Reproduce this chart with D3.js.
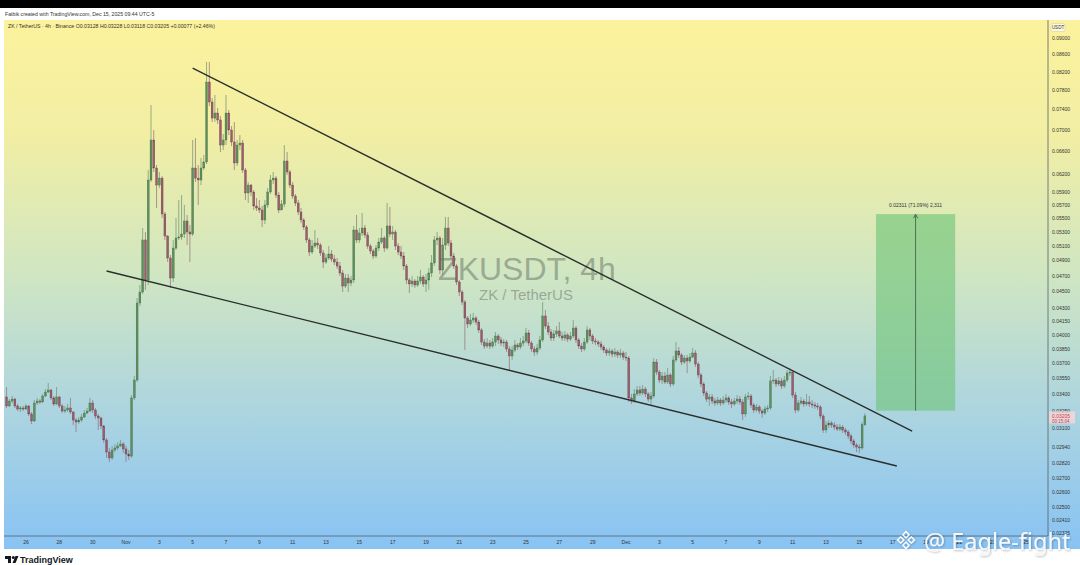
<!DOCTYPE html>
<html>
<head>
<meta charset="utf-8">
<script src="https://cdn.jsdelivr.net/npm/d3@7"></script>
<style>
  body { margin: 0; background: #fff; }
  svg { display: block; font-family: "Liberation Sans", Arial, sans-serif; }
</style>
</head>
<body>
<div id="chart"></div>
<script>
// ZK / TetherUS 4h candles (open = previous close)
var firstOpen = 0.03375;
var firstCandle = Date.UTC(2025, 9, 24, 20);   // chart local time, 4h bars

var closes = [
  0.03293,0.03338,0.03356,0.03293,0.03266,0.03275,0.03266,0.03293,0.03222,0.03161,
  0.03320,0.03338,0.03329,0.03384,0.03421,0.03440,0.03366,0.03311,0.03375,0.03293,
  0.03248,0.03257,0.03275,0.03239,0.03169,0.03152,0.03169,0.03195,0.03230,0.03248,
  0.03320,0.03257,0.03204,0.03187,0.03118,0.03001,0.02904,0.02857,0.02920,0.02936,
  0.02952,0.02968,0.02928,0.02888,0.02872,0.03366,0.03535,0.04363,0.04496,0.05183,
  0.04646,0.06106,0.06811,0.06309,0.06022,0.06138,0.05564,0.05239,0.04934,0.04671,
  0.05070,0.05211,0.05225,0.05268,0.05459,0.05297,0.05268,0.06309,0.06138,0.06106,
  0.06309,0.06414,0.07980,0.07556,0.07231,0.07332,0.07194,0.06718,0.06811,0.07332,
  0.07000,0.06774,0.06396,0.06718,0.06755,0.06275,0.05893,0.06022,0.05909,0.05687,
  0.05656,0.05625,0.05474,0.05703,0.05909,0.06106,0.06138,0.05860,0.05625,0.05718,
  0.06431,0.06241,0.06022,0.05844,0.05734,0.05595,0.05474,0.05370,0.05183,0.05015,
  0.05098,0.05140,0.05112,0.05002,0.04880,0.04934,0.04988,0.04920,0.04880,0.04827,
  0.04736,0.04570,0.04671,0.04608,0.04646,0.05326,0.05183,0.05283,0.05355,0.05254,
  0.05098,0.05029,0.04961,0.05070,0.05154,0.05211,0.05070,0.05385,0.05268,0.05297,
  0.05098,0.05015,0.04961,0.04827,0.04646,0.04596,0.04633,0.04583,0.04633,0.04684,
  0.04596,0.04646,0.04736,0.04867,0.05183,0.05211,0.04775,0.05112,0.05355,0.05140,
  0.04961,0.04827,0.04621,0.04496,0.04375,0.04188,0.04120,0.04165,0.04188,0.04142,
  0.04053,0.03922,0.03879,0.03911,0.03879,0.03922,0.03987,0.03944,0.03911,0.03922,
  0.03848,0.03775,0.03837,0.03890,0.03869,0.03911,0.03933,0.04020,0.03911,0.03848,
  0.03816,0.03858,0.03944,0.04211,0.04097,0.04031,0.03965,0.04009,0.04042,0.03987,
  0.03965,0.03998,0.03954,0.03987,0.04075,0.03944,0.03879,0.03848,0.03922,0.04053,
  0.03987,0.03933,0.03922,0.03901,0.03869,0.03837,0.03806,0.03827,0.03795,0.03816,
  0.03785,0.03806,0.03764,0.03754,0.03366,0.03338,0.03403,0.03440,0.03412,0.03449,
  0.03403,0.03356,0.03384,0.03713,0.03613,0.03535,0.03574,0.03516,0.03584,0.03497,
  0.03734,0.03827,0.03785,0.03713,0.03754,0.03724,0.03764,0.03806,0.03693,0.03584,
  0.03497,0.03412,0.03356,0.03375,0.03338,0.03320,0.03347,0.03320,0.03347,0.03366,
  0.03329,0.03311,0.03338,0.03356,0.03329,0.03222,0.03375,0.03384,0.03302,0.03257,
  0.03284,0.03248,0.03230,0.03266,0.03275,0.03526,0.03535,0.03497,0.03526,0.03478,
  0.03535,0.03603,0.03613,0.03393,0.03257,0.03320,0.03338,0.03311,0.03329,0.03311,
  0.03302,0.03293,0.03284,0.03204,0.03084,0.03126,0.03143,0.03126,0.03109,0.03092,
  0.03109,0.03084,0.03067,0.03034,0.02993,0.02960,0.02944,0.02936,0.03128,0.03205
];

var highs = [
  0.03468,0.03356,0.03384,0.03366,0.03311,0.03293,0.03293,0.03311,0.03302,0.03239,
  0.03347,0.03366,0.03356,0.03403,0.03449,0.03506,0.03449,0.03384,0.03468,0.03384,
  0.03311,0.03293,0.03311,0.03366,0.03248,0.03187,0.03195,0.03222,0.03257,0.03275,
  0.03366,0.03347,0.03275,0.03222,0.03195,0.03126,0.03017,0.02936,0.02952,0.02968,
  0.02984,0.03001,0.02984,0.02952,0.02920,0.03393,0.03574,0.04423,0.04583,0.05355,
  0.05297,0.06275,0.07494,0.07000,0.06361,0.06241,0.06172,0.05595,0.05254,0.04974,
  0.05183,0.05504,0.05781,0.05860,0.05703,0.05549,0.05399,0.06811,0.06847,0.06361,
  0.06483,0.06537,0.08429,0.08429,0.07638,0.07702,0.07432,0.07272,0.06923,0.07702,
  0.07393,0.07076,0.07154,0.06811,0.06904,0.06811,0.06309,0.06072,0.06039,0.05941,
  0.05812,0.05781,0.05687,0.05781,0.05974,0.06189,0.06241,0.06172,0.05909,0.05781,
  0.06718,0.06591,0.06275,0.06072,0.05876,0.05781,0.05656,0.05504,0.05399,0.05211,
  0.05183,0.05326,0.05211,0.05140,0.05043,0.04988,0.05098,0.05043,0.04974,0.04934,
  0.04880,0.04775,0.04723,0.04723,0.04697,0.05385,0.05549,0.05355,0.05579,0.05399,
  0.05297,0.05126,0.05057,0.05112,0.05211,0.05355,0.05239,0.05734,0.05672,0.05385,
  0.05326,0.05140,0.05098,0.05015,0.04854,0.04671,0.04697,0.04659,0.04697,0.04775,
  0.04710,0.04723,0.04801,0.04974,0.05239,0.05297,0.05239,0.05211,0.05519,0.05519,
  0.05183,0.05002,0.04854,0.04646,0.04521,0.04399,0.04211,0.04234,0.04245,0.04211,
  0.04165,0.04075,0.03954,0.03965,0.03944,0.03965,0.04031,0.04009,0.03976,0.03954,
  0.03944,0.03879,0.03879,0.03944,0.03911,0.03965,0.03987,0.04075,0.04053,0.03933,
  0.03879,0.03901,0.03987,0.04375,0.04280,0.04142,0.04064,0.04053,0.04097,0.04142,
  0.04031,0.04042,0.04020,0.04031,0.04165,0.04097,0.03965,0.03911,0.03965,0.04097,
  0.04075,0.04009,0.03965,0.03944,0.03933,0.03890,0.03858,0.03858,0.03848,0.03858,
  0.03837,0.03848,0.03827,0.03816,0.03775,0.03403,0.03449,0.03478,0.03478,0.03487,
  0.03468,0.03421,0.03421,0.03754,0.03744,0.03633,0.03613,0.03613,0.03653,0.03603,
  0.03775,0.03922,0.03869,0.03806,0.03785,0.03785,0.03806,0.03858,0.03837,0.03713,
  0.03603,0.03516,0.03431,0.03403,0.03403,0.03366,0.03375,0.03366,0.03384,0.03403,
  0.03384,0.03356,0.03366,0.03393,0.03384,0.03356,0.03403,0.03421,0.03403,0.03320,
  0.03311,0.03302,0.03266,0.03293,0.03302,0.03574,0.03633,0.03554,0.03564,0.03554,
  0.03574,0.03633,0.03653,0.03633,0.03421,0.03347,0.03375,0.03356,0.03403,0.03384,
  0.03347,0.03329,0.03320,0.03302,0.03222,0.03161,0.03169,0.03161,0.03152,0.03135,
  0.03135,0.03126,0.03101,0.03084,0.03050,0.03009,0.02976,0.02968,0.03152,0.03228
];

var lows = [
  0.03275,0.03284,0.03320,0.03275,0.03248,0.03239,0.03248,0.03257,0.03204,0.03135,
  0.03152,0.03302,0.03311,0.03320,0.03375,0.03412,0.03347,0.03293,0.03302,0.03275,
  0.03230,0.03230,0.03239,0.03222,0.03126,0.03067,0.03135,0.03152,0.03187,0.03222,
  0.03239,0.03230,0.03178,0.03084,0.03092,0.02976,0.02857,0.02826,0.02841,0.02904,
  0.02920,0.02944,0.02896,0.02826,0.02841,0.02857,0.03347,0.03516,0.04327,0.04472,
  0.04521,0.04583,0.06072,0.06241,0.05656,0.05972,0.05504,0.05183,0.04880,0.04546,
  0.04621,0.05043,0.05183,0.05183,0.05211,0.05112,0.04880,0.05239,0.06072,0.05703,
  0.06022,0.06275,0.06378,0.07473,0.07154,0.07154,0.07115,0.06591,0.06627,0.06718,
  0.06904,0.06699,0.06275,0.06343,0.06627,0.06224,0.05781,0.05734,0.05844,0.05625,
  0.05610,0.05579,0.05370,0.05414,0.05656,0.05876,0.06039,0.05812,0.05579,0.05625,
  0.05672,0.06189,0.05974,0.05797,0.05687,0.05549,0.05429,0.05326,0.05140,0.04961,
  0.04988,0.05070,0.05057,0.04961,0.04801,0.04854,0.04907,0.04880,0.04840,0.04788,
  0.04697,0.04496,0.04546,0.04496,0.04570,0.04608,0.05140,0.05140,0.05239,0.05211,
  0.05057,0.04988,0.04920,0.04934,0.05029,0.05126,0.05015,0.05043,0.05225,0.05183,
  0.05043,0.04974,0.04920,0.04775,0.04596,0.04484,0.04558,0.04546,0.04558,0.04596,
  0.04558,0.04496,0.04521,0.04684,0.04827,0.05112,0.04723,0.04710,0.05043,0.05098,
  0.04920,0.04788,0.04583,0.04447,0.04339,0.03837,0.04075,0.04097,0.04131,0.04109,
  0.04020,0.03890,0.03848,0.03858,0.03848,0.03858,0.03879,0.03901,0.03879,0.03869,
  0.03816,0.03633,0.03734,0.03816,0.03837,0.03848,0.03879,0.03911,0.03879,0.03816,
  0.03775,0.03785,0.03837,0.03922,0.04064,0.03998,0.03933,0.03933,0.03976,0.03965,
  0.03933,0.03933,0.03922,0.03933,0.03965,0.03911,0.03848,0.03816,0.03827,0.03901,
  0.03944,0.03901,0.03890,0.03869,0.03837,0.03806,0.03775,0.03775,0.03764,0.03764,
  0.03754,0.03754,0.03734,0.03724,0.03329,0.03311,0.03320,0.03384,0.03384,0.03393,
  0.03375,0.03329,0.03302,0.03366,0.03584,0.03506,0.03497,0.03497,0.03497,0.03468,
  0.03478,0.03713,0.03754,0.03683,0.03693,0.03603,0.03703,0.03754,0.03663,0.03554,
  0.03468,0.03384,0.03329,0.03293,0.03311,0.03293,0.03302,0.03293,0.03302,0.03320,
  0.03302,0.03275,0.03293,0.03311,0.03302,0.03169,0.03195,0.03347,0.03275,0.03230,
  0.03239,0.03222,0.03187,0.03213,0.03239,0.03257,0.03497,0.03468,0.03478,0.03449,
  0.03459,0.03516,0.03574,0.03366,0.03230,0.03239,0.03302,0.03284,0.03293,0.03284,
  0.03275,0.03266,0.03257,0.03178,0.03059,0.03059,0.03101,0.03101,0.03084,0.03075,
  0.03075,0.03059,0.03042,0.03009,0.02968,0.02936,0.02904,0.02896,0.02920,0.03118
];

// right price scale labels (log scale)
var priceTicks = [0.09, 0.086, 0.082, 0.078, 0.074, 0.070, 0.066, 0.062, 0.059, 0.057,
  0.055, 0.053, 0.051, 0.049, 0.047, 0.045, 0.043, 0.0415, 0.040, 0.0385, 0.037,
  0.0355, 0.034, 0.0325, 0.031, 0.0294, 0.0282, 0.0270, 0.0260, 0.0250, 0.0241, 0.02325];

// time scale labels
var dateTicks = ["2025-10-26","2025-10-28","2025-10-30","2025-11-01","2025-11-03","2025-11-05",
  "2025-11-07","2025-11-09","2025-11-11","2025-11-13","2025-11-15","2025-11-17","2025-11-19",
  "2025-11-21","2025-11-23","2025-11-25","2025-11-27","2025-11-29","2025-12-01","2025-12-03",
  "2025-12-05","2025-12-07","2025-12-09","2025-12-11","2025-12-13","2025-12-15","2025-12-17",
  "2025-12-19","2025-12-21","2025-12-23","2025-12-25"];
var dateLabels = ["26","28","30","Nov","3","5","7","9","11","13","15","17","19","21","23","25",
  "27","29","Dec","3","5","7","9","11","13","15","17","19","21","23","25"];

// falling wedge drawn on the chart: [time, price]
var upperLine = [["2025-11-05T00:00", 0.08291], ["2025-12-18T04:00", 0.03075]];
var lowerLine = [["2025-10-30T20:00", 0.04762], ["2025-12-17T06:00", 0.02795]];

// target measuring box
var targetFrom = "2025-12-16T00:00", targetTo = "2025-12-20T18:00";
var targetLow = 0.03251, targetHigh = 0.05562;
var targetText = "0.02311 (71.09%) 2,311";

var lastPrice = 0.03205;
var headerText = "Fatbik created with TradingView.com, Dec 15, 2025 09:44 UTC-5";
var legendText = "ZK / TetherUS \u00b7 4h \u00b7 Binance   O0.03128  H0.03228  L0.03118  C0.03205  +0.00077 (+2.46%)";

var W = 1080, H = 565;
var plotTop = 20, plotBottom = 536, plotLeft = 4, plotRight = 1048;

function t(s) { return new Date(s + (s.length > 10 ? ":00Z" : "T00:00:00Z")); }

var svg = d3.select("#chart").append("svg")
  .attr("width", W).attr("height", H);

var defs = svg.append("defs");
var grad = defs.append("linearGradient").attr("id", "bg")
  .attr("x1", 0).attr("y1", 0).attr("x2", 0).attr("y2", 1);
grad.append("stop").attr("offset", "0%").attr("stop-color", "#fcf29c");
grad.append("stop").attr("offset", "22%").attr("stop-color", "#f1eea4");
grad.append("stop").attr("offset", "48%").attr("stop-color", "#d0e6c2");
grad.append("stop").attr("offset", "72%").attr("stop-color", "#afd6de");
grad.append("stop").attr("offset", "100%").attr("stop-color", "#88c3f4");

// soft shadow for the app watermark
var shadow = defs.append("filter").attr("id", "wmshadow")
  .attr("x", "-10%").attr("y", "-30%").attr("width", "120%").attr("height", "160%");
shadow.append("feDropShadow").attr("dx", 0.8).attr("dy", 0.8)
  .attr("stdDeviation", 0.8).attr("flood-color", "#000").attr("flood-opacity", 0.3);

defs.append("clipPath").attr("id", "plotclip").append("rect")
  .attr("x", plotLeft).attr("y", plotTop)
  .attr("width", plotRight - plotLeft).attr("height", plotBottom - plotTop);

// page frame
svg.append("rect").attr("width", W).attr("height", 8).attr("fill", "#000");
svg.append("rect").attr("x", plotLeft).attr("y", plotTop)
  .attr("width", W - plotLeft).attr("height", 549 - plotTop).attr("fill", "url(#bg)");

svg.append("text").attr("x", 5).attr("y", 16)
  .attr("font-size", 5.2).attr("fill", "#333").text(headerText);
svg.append("text").attr("x", 8).attr("y", 27.5)
  .attr("font-size", 5.2).attr("fill", "#333").text(legendText);

// scales
var x = d3.scaleUtc()
  .domain([t("2025-10-26"), t("2025-12-01")])
  .range([26, 626]);
var y = d3.scaleLog()
  .domain([0.09, 0.045])
  .range([38, 38 + 366 * Math.LN2]);

var candles = closes.map(function(c, i) {
  return {
    time: new Date(firstCandle + i * 4 * 3600 * 1000),
    open: i === 0 ? firstOpen : closes[i - 1],
    high: highs[i], low: lows[i], close: c
  };
});

var plot = svg.append("g").attr("clip-path", "url(#plotclip)");

// symbol watermark
plot.append("text").attr("x", 527).attr("y", 280)
  .attr("text-anchor", "middle").attr("font-size", 32)
  .attr("fill", "rgba(100,110,100,0.5)").text("ZKUSDT, 4h");
plot.append("text").attr("x", 526).attr("y", 300)
  .attr("text-anchor", "middle").attr("font-size", 15)
  .attr("fill", "rgba(100,110,100,0.5)").text("ZK / TetherUS");

// candles
var bodyW = 1.9;
var cg = plot.append("g");
cg.selectAll("line.wick").data(candles).enter().append("line")
  .attr("class", "wick")
  .attr("x1", function(d) { return x(d.time); })
  .attr("x2", function(d) { return x(d.time); })
  .attr("y1", function(d) { return y(d.high); })
  .attr("y2", function(d) { return y(d.low); })
  .attr("stroke", function(d) { return d.close >= d.open ? "#6f8f6f" : "#8f6f78"; })
  .attr("stroke-width", 0.7);
cg.selectAll("rect.body").data(candles).enter().append("rect")
  .attr("class", "body")
  .attr("x", function(d) { return x(d.time) - bodyW / 2; })
  .attr("width", bodyW)
  .attr("y", function(d) { return y(Math.max(d.open, d.close)); })
  .attr("height", function(d) { return Math.max(0.7, Math.abs(y(d.open) - y(d.close))); })
  .attr("fill", function(d) { return d.close >= d.open ? "#5f8f5e" : "#9a5d6b"; })
  .attr("stroke", function(d) { return d.close >= d.open ? "#3f6a43" : "#6d3c4a"; })
  .attr("stroke-width", 0.35);

// wedge lines
[upperLine, lowerLine].forEach(function(ln) {
  plot.append("line")
    .attr("x1", x(t(ln[0][0]))).attr("y1", y(ln[0][1]))
    .attr("x2", x(t(ln[1][0]))).attr("y2", y(ln[1][1]))
    .attr("stroke", "#2a2f2b").attr("stroke-width", 1.4);
});

// target box
var bx0 = x(t(targetFrom)), bx1 = x(t(targetTo));
var by0 = y(targetHigh), by1 = y(targetLow);
plot.append("rect").attr("x", bx0).attr("y", by0)
  .attr("width", bx1 - bx0).attr("height", by1 - by0)
  .attr("fill", "rgba(110,196,120,0.62)");
var bxm = (bx0 + bx1) / 2;
plot.append("line").attr("x1", bxm).attr("x2", bxm).attr("y1", by0 + 1).attr("y2", by1)
  .attr("stroke", "#4b6f52").attr("stroke-width", 1);
plot.append("path")
  .attr("d", "M" + (bxm - 2) + "," + (by0 + 4) + "L" + bxm + "," + by0 + "L" + (bxm + 2) + "," + (by0 + 4))
  .attr("fill", "none").attr("stroke", "#4b6f52").attr("stroke-width", 1);
plot.append("text").attr("x", bxm).attr("y", by0 - 7)
  .attr("text-anchor", "middle").attr("font-size", 5).attr("fill", "#333").text(targetText);

// right price axis
var ax = svg.append("g");
ax.append("line").attr("x1", plotRight).attr("x2", plotRight)
  .attr("y1", plotTop).attr("y2", plotBottom).attr("stroke", "#55606a").attr("stroke-width", 0.8);
ax.selectAll("text.pt").data(priceTicks).enter().append("text")
  .attr("class", "pt")
  .attr("x", 1052).attr("y", function(d) { return y(d) + 1.8; })
  .attr("font-size", 5).attr("fill", "#333")
  .text(d3.format(".5f"));
ax.append("rect").attr("x", 1051).attr("y", 23.5).attr("width", 14).attr("height", 8)
  .attr("rx", 1.5).attr("fill", "rgba(255,255,255,0.6)").attr("stroke", "#bbb").attr("stroke-width", 0.4);
ax.append("text").attr("x", 1058).attr("y", 29.3).attr("text-anchor", "middle")
  .attr("font-size", 4.5).attr("fill", "#333").text("USDT");
var ly = y(lastPrice);
ax.append("rect").attr("x", 1049).attr("y", ly - 4.5).attr("width", 26).attr("height", 12)
  .attr("fill", "rgba(246,214,214,0.85)");
ax.append("text").attr("x", 1052).attr("y", ly + 1.8)
  .attr("font-size", 5).attr("fill", "#c9414f").text(d3.format(".5f")(lastPrice));
ax.append("text").attr("x", 1052).attr("y", ly + 7)
  .attr("font-size", 4.5).attr("fill", "#c9414f").text("00:15:04");

// bottom time axis
var bt = svg.append("g");
bt.append("line").attr("x1", plotLeft).attr("x2", plotRight)
  .attr("y1", plotBottom).attr("y2", plotBottom).attr("stroke", "#55606a").attr("stroke-width", 0.8);
bt.selectAll("text").data(dateTicks).enter().append("text")
  .attr("x", function(d) { return x(t(d)); })
  .attr("y", 544).attr("text-anchor", "middle")
  .attr("font-size", 5).attr("fill", "#333")
  .text(function(d, i) { return dateLabels[i]; });
svg.append("rect").attr("x", 0).attr("y", 549).attr("width", W).attr("height", H - 549).attr("fill", "#fff");

// TradingView logo
var logo = svg.append("g").attr("transform", "translate(5,556)");
logo.append("path").attr("d", "M0,0H6V7H3V3H0Z").attr("fill", "#131722");
logo.append("circle").attr("cx", 8.3).attr("cy", 1.5).attr("r", 1.5).attr("fill", "#131722");
logo.append("path").attr("d", "M10.5,0H13.5L10.5,7H7.5Z").attr("fill", "#131722");
svg.append("text").attr("x", 20).attr("y", 563)
  .attr("font-size", 9).attr("font-weight", "bold").attr("fill", "#131722").text("TradingView");

// app watermark
var wm = svg.append("g").attr("filter", "url(#wmshadow)");
var dg = wm.append("g").attr("transform", "translate(906,540) rotate(45)");
[[-6, -6], [1.5, -6], [-6, 1.5], [1.5, 1.5]].forEach(function(p) {
  dg.append("rect").attr("x", p[0]).attr("y", p[1]).attr("width", 4.5).attr("height", 4.5)
    .attr("fill", "none").attr("stroke", "#fff").attr("stroke-width", 1.3);
});
wm.append("text").attr("x", 924).attr("y", 549.5)
  .attr("font-family", "'Noto Sans', sans-serif").attr("font-size", 23.5)
  .attr("fill", "#f4f7fb").text("@ Eagle-fight");
</script>
</body>
</html>
